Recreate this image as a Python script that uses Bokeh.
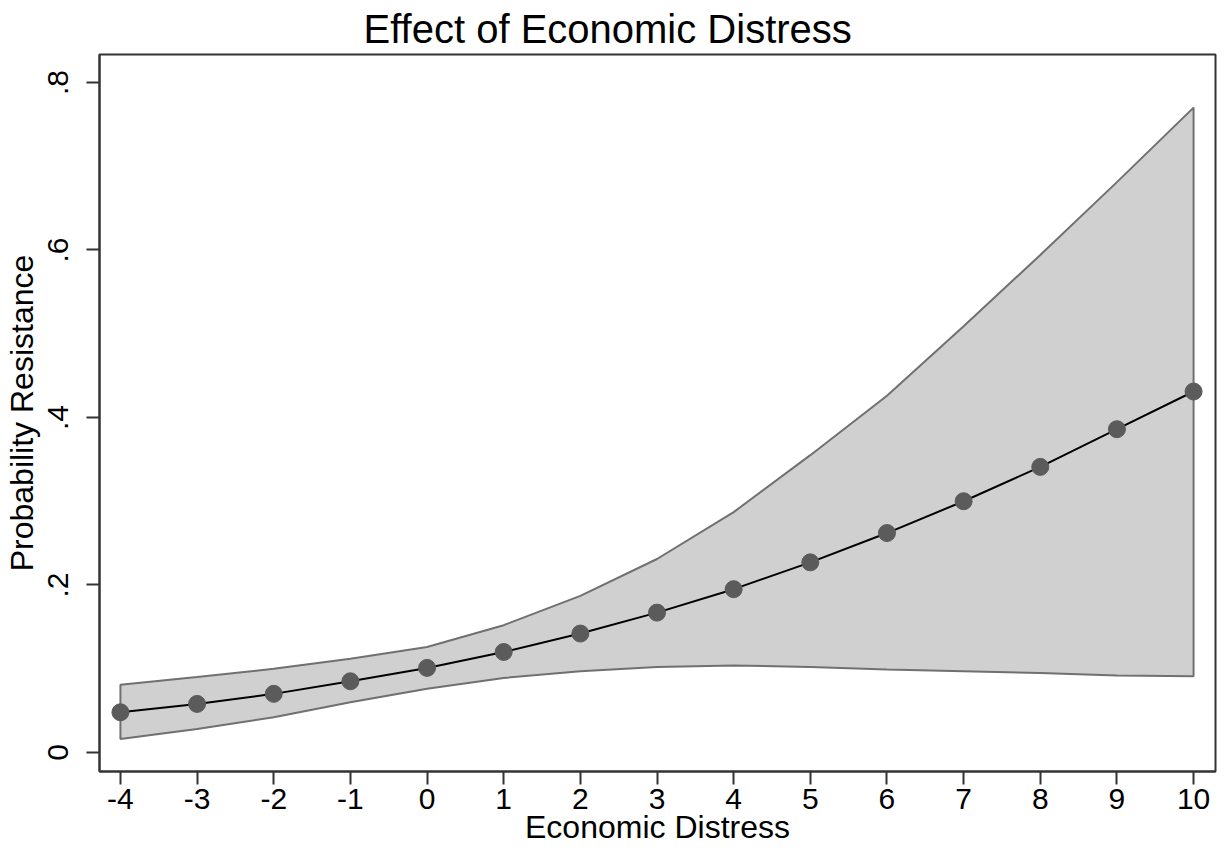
from bokeh.plotting import figure
from bokeh.models import Range1d, FixedTicker, CustomJSTickFormatter, ColumnDataSource
from bokeh.embed import file_html
from bokeh.resources import INLINE

# Data
distress = [-4, -3, -2, -1, 0, 1, 2, 3, 4, 5, 6, 7, 8, 9, 10]
prob = [0.048, 0.058, 0.070, 0.085, 0.101, 0.120, 0.142, 0.167, 0.195, 0.227, 0.262, 0.300, 0.341, 0.386, 0.431]
upper = [0.081, 0.090, 0.100, 0.112, 0.126, 0.152, 0.187, 0.231, 0.287, 0.355, 0.426, 0.509, 0.594, 0.681, 0.770]
lower = [0.016, 0.028, 0.042, 0.060, 0.076, 0.089, 0.097, 0.102, 0.104, 0.102, 0.099, 0.097, 0.095, 0.092, 0.091]
x_ticks = [-4, -3, -2, -1, 0, 1, 2, 3, 4, 5, 6, 7, 8, 9, 10]
y_ticks = [0, 0.2, 0.4, 0.6, 0.8]
title_text = "Effect of Economic Distress"
x_title = "Economic Distress"
y_title = "Probability Resistance"

FONT = "Liberation Sans"

p = figure(width=1217, height=847, output_backend="svg", toolbar_location=None,
           x_range=Range1d(-4.273, 10.286), y_range=Range1d(-0.0227, 0.8334),
           min_border_left=97, min_border_right=2, min_border_top=54, min_border_bottom=76,
           title=title_text)

p.title.text_font = FONT
p.title.text_font_size = "40px"
p.title.text_font_style = "normal"
p.title.text_color = "black"
p.title.align = "left"
p.title.offset = 264
p.title.standoff = 8

p.background_fill_color = "white"
p.border_fill_color = "white"
p.outline_line_color = "#333333"
p.outline_line_width = 2
p.xgrid.visible = False
p.ygrid.visible = False

# confidence band
band_x = distress + distress[::-1]
band_y = upper + lower[::-1]
p.patch(band_x, band_y, fill_color="#d0d0d0", line_color="#707070", line_width=2)

src = ColumnDataSource(dict(x=distress, y=prob))
p.line("x", "y", source=src, line_color="black", line_width=2)
p.scatter("x", "y", source=src, size=17, fill_color="#5b5b5b", line_color="#5b5b5b")

for ax in (p.xaxis, p.yaxis):
    ax.axis_line_color = "#333333"
    ax.axis_line_width = 2
    ax.major_tick_line_color = "#333333"
    ax.major_tick_line_width = 2
    ax.major_tick_out = 13
    ax.major_tick_in = 0
    ax.minor_tick_line_color = None
    ax.major_label_text_font = FONT
    ax.major_label_text_font_size = "30px"
    ax.major_label_text_color = "black"
    ax.axis_label_text_font = FONT
    ax.axis_label_text_font_size = "32px"
    ax.axis_label_text_font_style = "normal"
    ax.axis_label_text_color = "black"

p.xaxis.ticker = FixedTicker(ticks=x_ticks)
p.xaxis.formatter = CustomJSTickFormatter(code="return String(Math.round(tick));")
p.xaxis.axis_label = x_title
p.xaxis.major_label_standoff = 4
p.xaxis.axis_label_standoff = -3

p.yaxis.ticker = FixedTicker(ticks=y_ticks)
p.yaxis.formatter = CustomJSTickFormatter(code="""
    if (Math.abs(tick) < 1e-9) { return '0'; }
    return tick.toFixed(1).replace(/^0/, '');
""")
p.yaxis.major_label_orientation = "vertical"
p.yaxis.axis_label = y_title
p.yaxis.major_label_standoff = 18
p.yaxis.axis_label_standoff = 6

open("out.html", "w").write(file_html(p, INLINE))
